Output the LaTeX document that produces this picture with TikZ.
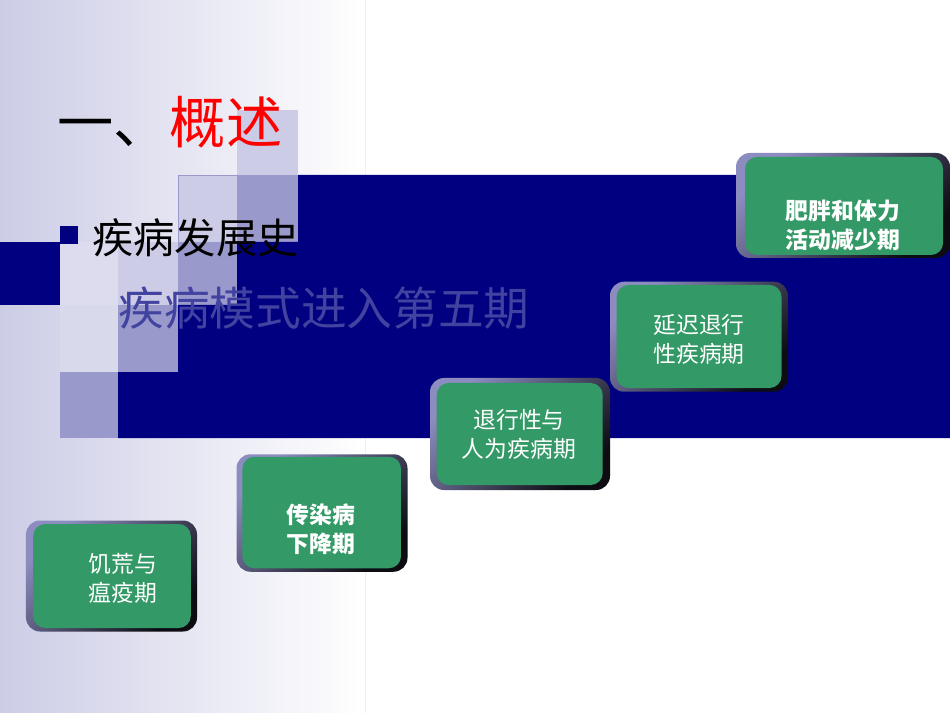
\documentclass[tikz,border=0pt]{standalone}
\usepackage{fontspec}
\setmainfont{Noto Sans CJK SC}
\usetikzlibrary{positioning}

\definecolor{navyband}{RGB}{0,0,128}
\definecolor{lavMid}{RGB}{153,153,204}
\definecolor{lavLight}{RGB}{204,204,230}
\definecolor{lavPale}{RGB}{220,220,238}
\definecolor{bgLav}{RGB}{204,204,230}
\definecolor{wordart}{RGB}{66,66,160}
\definecolor{stageGreen}{RGB}{51,153,102}
\definecolor{bevelLight}{RGB}{140,140,192}
\definecolor{bevelDark}{RGB}{12,12,18}

\tikzset{
    % --- Beveled rim behind each stage ---
    rim/.style = {
        rectangle, rounded corners=2.8mm, inner sep=0pt,
        top color=bevelLight, bottom color=bevelDark, shading angle=45
    },
    % --- Green stage face ---
    stage/.style = {
        rectangle, rounded corners=2.4mm, inner sep=0pt,
        fill=stageGreen
    },
    % --- Stage label ---
    stage text/.style = {
        text=white, align=center,
        font=\fontsize{13}{16.5}\selectfont
    },
    % --- Decorative square ---
    tile/.style = {
        rectangle, inner sep=0pt, minimum size=0pt
    }
}

\begin{document}
\begin{tikzpicture}[x=0.2mm, y=-0.2mm]

% ---------------------------------------------------------
% Background
% ---------------------------------------------------------
\useasboundingbox (0,0) rectangle (950,713);
\fill[white] (0,0) rectangle (950,713);
\shade[left color=bgLav, right color=white] (0,0) rectangle (365,713);
\draw[black!6, very thin] (365,0) -- (365,713);

% ---------------------------------------------------------
% 1. Squares and navy band
% ---------------------------------------------------------
\fill[lavLight] (237,110) rectangle (298,175);
\fill[lavLight, draw=lavMid, very thin] (178,175) rectangle (237,242);
\fill[lavMid] (237,175) rectangle (298,242);
\fill[lavPale] (60,242) rectangle (118,305);
\fill[lavLight] (118,242) rectangle (178,305);
\fill[lavMid] (178,242) rectangle (237,305);
\fill[lavPale!80!lavLight] (60,305) rectangle (118,372);
\fill[lavMid] (118,305) rectangle (178,372);
\fill[lavMid] (60,372) rectangle (118,438);

\fill[navyband] (298,175) -- (950,175) -- (950,438) -- (118,438)
    -- (118,372) -- (178,372) -- (178,305) -- (237,305)
    -- (237,242) -- (298,242) -- cycle;
\fill[navyband] (0,242) rectangle (60,305);

% ---------------------------------------------------------
% 2. Title and bullet
% ---------------------------------------------------------
\node[anchor=west, inner sep=0pt, font=\fontsize{32}{32}\selectfont]
    (Title) at (57,122) {一、\textcolor{red}{概述}};
\node[fill=navyband, minimum size=3.6mm, inner sep=0pt] (Bullet) at (69,235) {};
\node[anchor=west, inner sep=0pt, font=\fontsize{23.5}{23.5}\selectfont]
    (History) at (92,238) {疾病发展史};
\node[anchor=west, inner sep=0pt, text=wordart, font=\fontsize{26}{26}\selectfont]
    (FifthStage) at (118,308) {疾病模式进入第五期};

% ---------------------------------------------------------
% 3. Stages (rim, face, label)
% ---------------------------------------------------------
\node[rim, minimum width=34.2mm, minimum height=22.2mm] (FamineRim) at (111.5,576) {};
\node[stage, minimum width=31.5mm, minimum height=20.8mm] (Famine) at (112,576) {};
\node[stage text] (FamineText) at (123,578) {饥荒与\\瘟疫期};

\node[rim, minimum width=34.2mm, minimum height=23.5mm] (InfectRim) at (322,513) {};
\node[stage, minimum width=31.7mm, minimum height=22.3mm] (Infect) at (321.7,512.5) {};
\node[stage text, font=\fontsize{13}{16.5}\selectfont\bfseries] (InfectText) at (321,529) {传染病\\下降期};

\node[rim, minimum width=36mm, minimum height=22.4mm] (ManmadeRim) at (520,434) {};
\node[stage, minimum width=33.2mm, minimum height=20.4mm] (Manmade) at (519.7,434) {};
\node[stage text] (ManmadeText) at (519,434.5) {退行性与\\人为疾病期};

\node[rim, minimum width=35.6mm, minimum height=22mm] (DelayRim) at (699,336.7) {};
\node[stage, minimum width=33mm, minimum height=20.6mm] (Delay) at (699,336.5) {};
\node[stage text] (DelayText) at (699,339) {延迟退行\\性疾病期};

\node[rim, minimum width=42.8mm, minimum height=21mm] (ObesityRim) at (843,205.5) {};
\node[stage, minimum width=39.6mm, minimum height=19.6mm] (Obesity) at (844,206) {};
\node[stage text, font=\fontsize{13}{16.5}\selectfont\bfseries] (ObesityText) at (843,225) {肥胖和体力\\活动减少期};

\end{tikzpicture}
\end{document}
